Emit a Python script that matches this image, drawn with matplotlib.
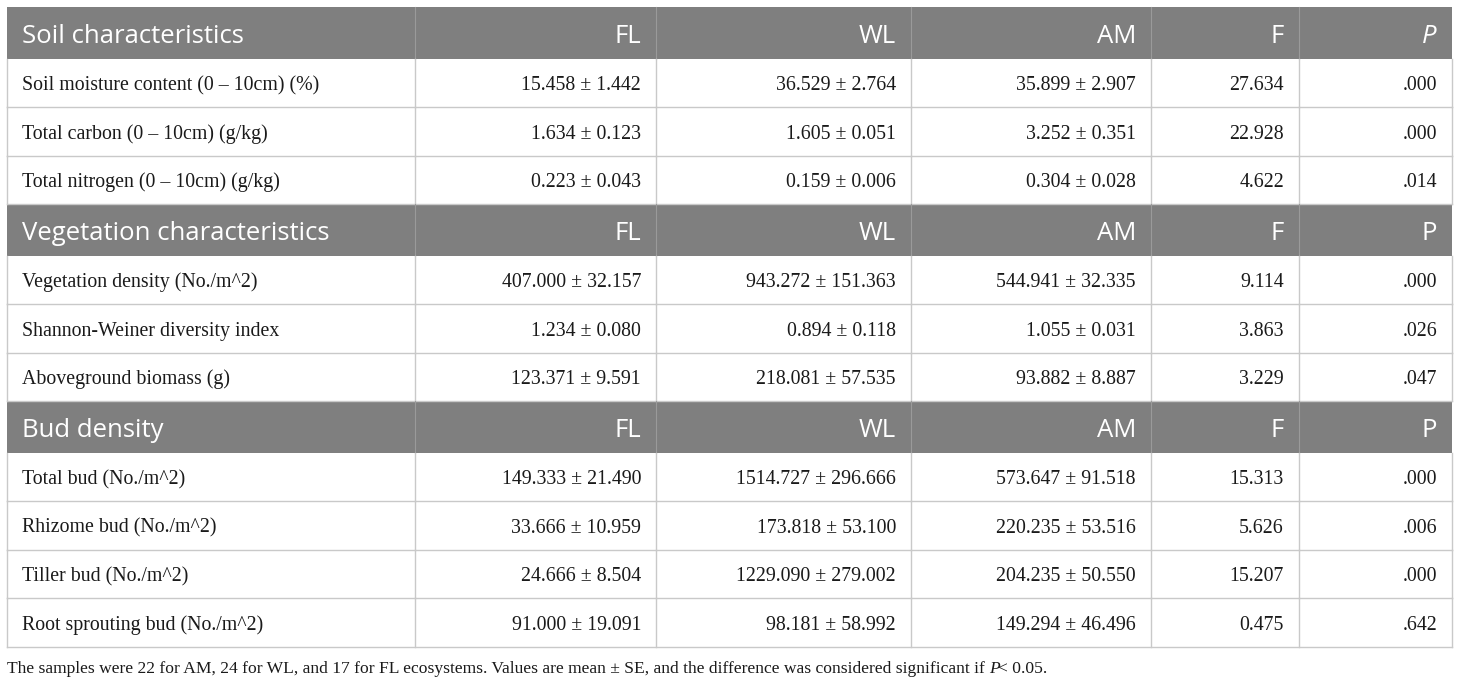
import matplotlib.pyplot as plt
from matplotlib.patches import Rectangle

# table content
sections = ['Soil characteristics', 'Vegetation characteristics', 'Bud density']
col_names = ['FL', 'WL', 'AM', 'F']
p_italic = [True, False, False]

row_labels = [
    ['Soil moisture content (0 \u2013 10cm) (%)', 'Total carbon (0 \u2013 10cm) (g/kg)',
     'Total nitrogen (0 \u2013 10cm) (g/kg)'],
    ['Vegetation density (No./m^2)', 'Shannon-Weiner diversity index', 'Aboveground biomass (g)'],
    ['Total bud (No./m^2)', 'Rhizome bud (No./m^2)', 'Tiller bud (No./m^2)',
     'Root sprouting bud (No./m^2)'],
]
fl_vals = [
    ['15.458 \u00b1 1.442', '1.634 \u00b1 0.123', '0.223 \u00b1 0.043'],
    ['407.000 \u00b1 32.157', '1.234 \u00b1 0.080', '123.371 \u00b1 9.591'],
    ['149.333 \u00b1 21.490', '33.666 \u00b1 10.959', '24.666 \u00b1 8.504', '91.000 \u00b1 19.091'],
]
wl_vals = [
    ['36.529 \u00b1 2.764', '1.605 \u00b1 0.051', '0.159 \u00b1 0.006'],
    ['943.272 \u00b1 151.363', '0.894 \u00b1 0.118', '218.081 \u00b1 57.535'],
    ['1514.727 \u00b1 296.666', '173.818 \u00b1 53.100', '1229.090 \u00b1 279.002', '98.181 \u00b1 58.992'],
]
am_vals = [
    ['35.899 \u00b1 2.907', '3.252 \u00b1 0.351', '0.304 \u00b1 0.028'],
    ['544.941 \u00b1 32.335', '1.055 \u00b1 0.031', '93.882 \u00b1 8.887'],
    ['573.647 \u00b1 91.518', '220.235 \u00b1 53.516', '204.235 \u00b1 50.550', '149.294 \u00b1 46.496'],
]
f_vals = [
    ['27.634', '22.928', '4.622'],
    ['9.114', '3.863', '3.229'],
    ['15.313', '5.626', '15.207', '0.475'],
]
p_vals = [
    ['.000', '.000', '.014'],
    ['.000', '.026', '.047'],
    ['.000', '.006', '.000', '.642'],
]
footnote = ('The samples were 22 for AM, 24 for WL, and 17 for FL ecosystems. '
            'Values are mean \u00b1 SE, and the difference was considered significant if ')

W, H = 1460, 683
fig = plt.figure(figsize=(W / 100, H / 100), dpi=100)
ax = fig.add_axes([0, 0, 1, 1])
ax.set_xlim(0, W)
ax.set_ylim(H, 0)
ax.axis('off')

col_edges = [7, 415, 656, 911, 1151, 1299, 1452]
head_h = 51.5
row_h = 48.5
pad = 15
head_color = '#7f7f7f'
line_color = '#c9c9c9'
txt_color = '#1a1a1a'
serif = 'Liberation Serif'
sans = 'Open Sans'
fs_head, fs_cell, fs_note = 18.5, 14.3, 12.6
head_base = 10.5   # baseline offset below row centre
cell_base = 7.5

y = 7
for s, title in enumerate(sections):
    # header band
    ax.add_patch(Rectangle((col_edges[0], y), col_edges[-1] - col_edges[0], head_h,
                           facecolor=head_color, edgecolor='none'))
    for xe in col_edges[1:-1]:
        ax.plot([xe, xe], [y, y + head_h], color='#9a9a9a', lw=0.8)
    yb = y + head_h / 2 + head_base
    ax.text(col_edges[0] + 15, yb, title, color='white', fontsize=fs_head, family=sans,
            va='baseline', ha='left')
    for c, name in enumerate(col_names):
        ax.text(col_edges[c + 2] - pad, yb, name, color='white', fontsize=fs_head, family=sans,
                va='baseline', ha='right')
    ax.text(col_edges[-1] - pad, yb, 'P', color='white', fontsize=fs_head, family=sans,
            va='baseline', ha='right', style='italic' if p_italic[s] else 'normal')
    y += head_h

    cols = [fl_vals[s], wl_vals[s], am_vals[s], f_vals[s], p_vals[s]]
    for r, lab in enumerate(row_labels[s]):
        yb = y + row_h / 2 + cell_base
        ax.text(col_edges[0] + 15, yb, lab, fontsize=fs_cell, family=serif, va='baseline',
                ha='left', color=txt_color)
        for c in range(5):
            ax.text(col_edges[c + 2] - pad, yb, cols[c][r], fontsize=fs_cell, family=serif,
                    va='baseline', ha='right', color=txt_color)
        for xe in col_edges:
            ax.plot([xe, xe], [y, y + row_h], color=line_color, lw=1)
        ax.plot([col_edges[0], col_edges[-1]], [y + row_h, y + row_h], color=line_color, lw=1)
        y += row_h

note_y = 673
ax.text(7, note_y, footnote, fontsize=fs_note, family=serif, va='baseline', ha='left',
        color=txt_color)
fig.canvas.draw()
bb = ax.texts[-1].get_window_extent()
x_end = ax.transData.inverted().transform((bb.x1, bb.y0))[0]
ax.text(x_end, note_y, 'P', fontsize=fs_note, family=serif, style='italic', va='baseline',
        ha='left', color=txt_color)
ax.text(x_end + 9, note_y, '< 0.05.', fontsize=fs_note, family=serif, va='baseline', ha='left',
        color=txt_color)

fig.savefig('out.png', dpi=100)
